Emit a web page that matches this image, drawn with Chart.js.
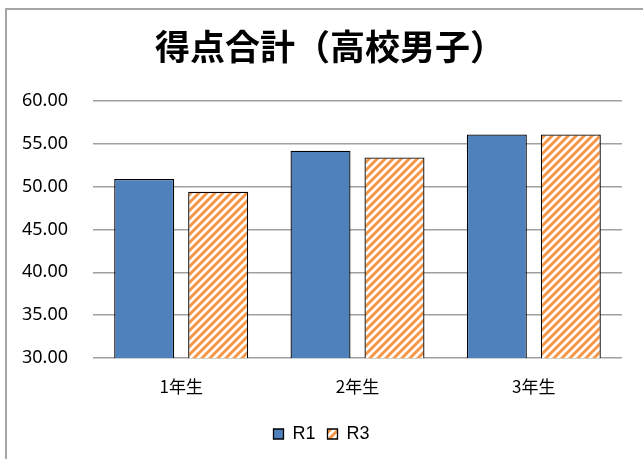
<!DOCTYPE html>
<html>
<head>
<meta charset="utf-8">
<script src="https://cdn.jsdelivr.net/npm/chart.js@4"></script>
<style>
  html, body { margin: 0; padding: 0; background: #fff; }
  #wrap { position: relative; width: 643px; height: 459px; }
  #frame {
    position: absolute; left: 5px; top: 8px; right: 0; bottom: 0;
    border-left: 2px solid #a6a6a6; border-top: 2px solid #a6a6a6;
    pointer-events: none;
  }
</style>
</head>
<body>
<div id="wrap">
  <canvas id="scoreChart" width="643" height="459"></canvas>
  <div id="frame"></div>
</div>
<script>
// -------------------- Data --------------------
const chartTitle = '得点合計（高校男子）';
const grades = ['1年生', '2年生', '3年生'];
const r1Values = [50.9, 54.2, 56.1];
const r3Values = [49.4, 53.4, 56.1];
const yTicks = [30, 35, 40, 45, 50, 55, 60];

// -------------------- Hatch pattern --------------------
function makeHatch(color) {
  const size = 8;
  const c = document.createElement('canvas');
  c.width = size;
  c.height = size;
  const g = c.getContext('2d');
  g.fillStyle = '#fff';
  g.fillRect(0, 0, size, size);
  g.strokeStyle = color;
  g.lineWidth = 3;
  g.beginPath();
  // "/" stripes, drawn with wrap-around so the tile repeats cleanly
  g.moveTo(-2, size + 2); g.lineTo(size + 2, -2);
  g.moveTo(-2 - size, size + 2); g.lineTo(2, -2);
  g.moveTo(size - 2, size + 2); g.lineTo(size * 2 + 2, -2);
  g.stroke();
  return g.createPattern(c, 'repeat');
}

// title drawn by hand so it can sit centred on the whole frame
const titlePlugin = {
  id: 'frameTitle',
  afterDraw(chart) {
    const g = chart.ctx;
    g.save();
    g.font = "bold 35px 'Noto Sans CJK JP'";
    g.fillStyle = '#000';
    g.textAlign = 'center';
    g.textBaseline = 'middle';
    g.fillText(chartTitle, 330, 47);
    g.restore();
  }
};

const ctx = document.getElementById('scoreChart');

new Chart(ctx, {
  type: 'bar',
  data: {
    labels: grades,
    datasets: [
      {
        label: 'R1',
        data: r1Values,
        backgroundColor: '#4f81bd',
        borderColor: '#000',
        borderWidth: 1.3,
        categoryPercentage: 0.839,
        barPercentage: 0.811
      },
      {
        label: 'R3',
        data: r3Values,
        backgroundColor: makeHatch('#f79646'),
        borderColor: '#000',
        borderWidth: 1.3,
        categoryPercentage: 0.839,
        barPercentage: 0.811
      }
    ]
  },
  plugins: [titlePlugin],
  options: {
    responsive: false,
    animation: false,
    layout: { padding: { left: 21, right: 21, top: 101, bottom: 6 } },
    plugins: {
      title: { display: false },
      legend: {
        position: 'bottom',
        labels: {
          color: '#000',
          boxWidth: 10,
          boxHeight: 10,
          padding: 12,
          font: { family: "'Liberation Sans'", size: 18 }
        }
      },
      tooltip: { enabled: false }
    },
    scales: {
      x: {
        grid: { display: false, drawTicks: false },
        border: { display: false },
        ticks: {
          color: '#000',
          padding: 18,
          font: { family: "'Noto Sans CJK JP'", size: 17 }
        },
        afterFit: scale => { scale.height = 55; }
      },
      y: {
        min: 30,
        max: 60,
        afterBuildTicks: scale => { scale.ticks = yTicks.map(v => ({ value: v })); },
        grid: { color: '#a0a0a0', lineWidth: 1.5, drawTicks: false },
        border: { display: false },
        ticks: {
          color: '#000',
          padding: 25,
          font: { family: "'Noto Sans'", size: 18 },
          callback: v => v.toFixed(2)
        },
        afterFit: scale => { scale.width = 72; }
      }
    }
  }
});
</script>
</body>
</html>
